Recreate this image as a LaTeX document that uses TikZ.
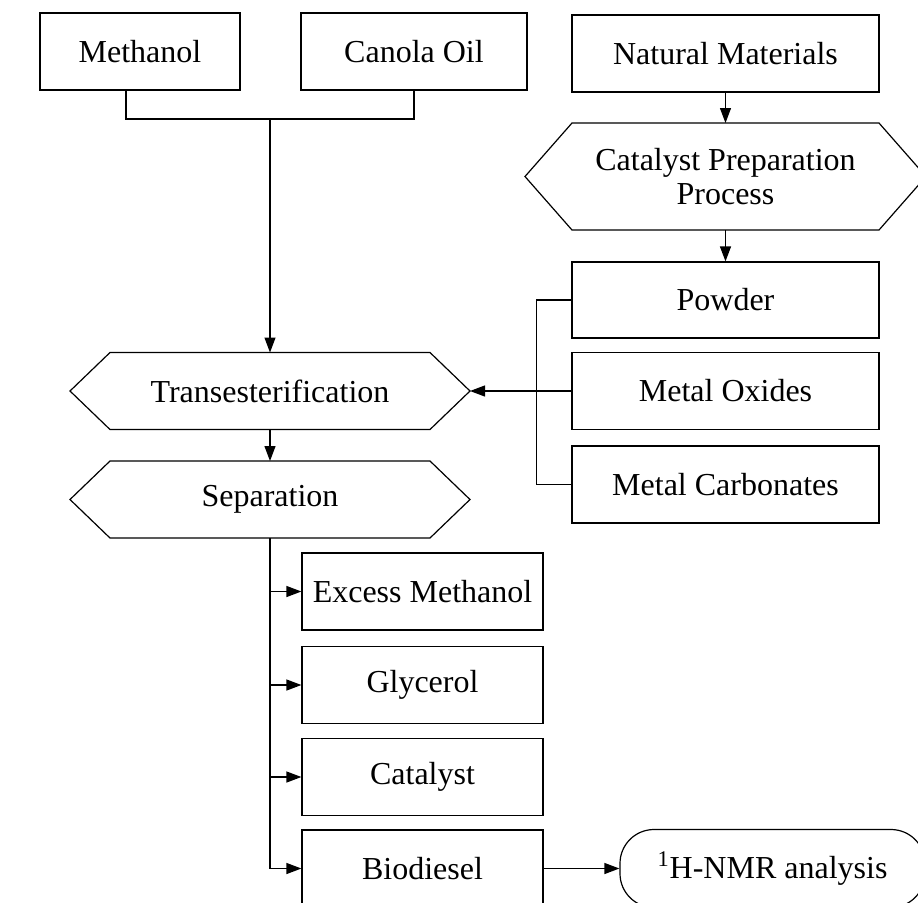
\documentclass[tikz,border=0pt]{standalone}
\usepackage{fontspec}
\setmainfont{Liberation Serif}
\usetikzlibrary{arrows.meta}
\begin{document}
\begin{tikzpicture}[x=0.5pt,y=-0.5pt,line width=0.6pt,
  box/.style={draw,minimum height=38.5pt,inner sep=0pt,font=\fontsize{16}{15}\selectfont},
  hexa/.style={minimum width=160pt,minimum height=38.5pt,inner sep=0pt,outer sep=0pt,align=center,font=\fontsize{16}{15}\selectfont},
  arr/.style={-{Triangle[length=7.5pt,width=5.5pt]}}]
\useasboundingbox (0,0) rectangle (918,902);
%inputs
\node[box,minimum width=100pt] (meth) at (140,51.5) {Methanol};
\node[box,minimum width=113pt] (canola) at (414,51.5) {Canola Oil};
\node[box,minimum width=153.5pt] (natmat) at (725.5,53.5) {Natural Materials};
%catalyst side
\node[hexa,minimum width=153.5pt,minimum height=53.5pt,font=\fontsize{16}{17}\selectfont] (prep) at (725.5,176.5) {Catalyst Preparation\\Process};
\coordinate (prepW) at ([xshift=-23.5pt]prep.west);
\coordinate (prepE) at ([xshift=23.5pt]prep.east);
\draw (prep.north west)--(prep.north east)--(prepE)--(prep.south east)--(prep.south west)--(prepW)--cycle;
\node[box,minimum width=153.5pt,minimum height=38pt] (powder) at (725.5,300) {Powder};
\node[box,minimum width=153.5pt] (oxides) at (725.5,391) {Metal Oxides};
\node[box,minimum width=153.5pt] (carb) at (725.5,484.5) {Metal Carbonates};
%process
\node[hexa] (trans) at (270,391) {Transesterification};
\coordinate (transW) at ([xshift=-20pt]trans.west);
\coordinate (transE) at ([xshift=20pt]trans.east);
\draw (trans.north west)--(trans.north east)--(transE)--(trans.south east)--(trans.south west)--(transW)--cycle;
\node[hexa] (sep) at (270,499.5) {Separation};
\coordinate (sepW) at ([xshift=-20pt]sep.west);
\coordinate (sepE) at ([xshift=20pt]sep.east);
\draw (sep.north west)--(sep.north east)--(sepE)--(sep.south east)--(sep.south west)--(sepW)--cycle;
%products
\foreach \n/\y/\t in {excess/591.5/Excess Methanol,glyc/685/Glycerol,cat/777/Catalyst,bio/868.5/Biodiesel}
  {\node[box,minimum width=120.5pt] (\n) at (422.5,\y) {\t};}
\node[draw,rounded corners=17pt,minimum width=152.5pt,minimum height=39pt,inner sep=0pt,font=\fontsize{16}{15}\selectfont] (nmr) at (772.5,868.5) {\textsuperscript{1}H-NMR analysis};
%connectors
\coordinate (join) at (270,119);
\draw ([xshift=-7pt]meth.south)|-(join)-|(canola.south);
\draw[arr] (join)--(trans.north);
\draw[arr] (natmat.south)--(prep.north);
\draw[arr] (prep.south)--(powder.north);
\draw (powder.west)--++(-35,0)|-(carb.west);
\draw[arr] (oxides.west)--(transE);
\draw[arr] (trans.south)--(sep.north);
\draw (sep.south)--(sep.south|-bio.west);
\foreach \n in {excess,glyc,cat,bio}{\draw[arr] (sep.south|-\n.west)--(\n.west);}
\draw[arr] (bio.east)--(nmr.west);
\end{tikzpicture}
\end{document}
